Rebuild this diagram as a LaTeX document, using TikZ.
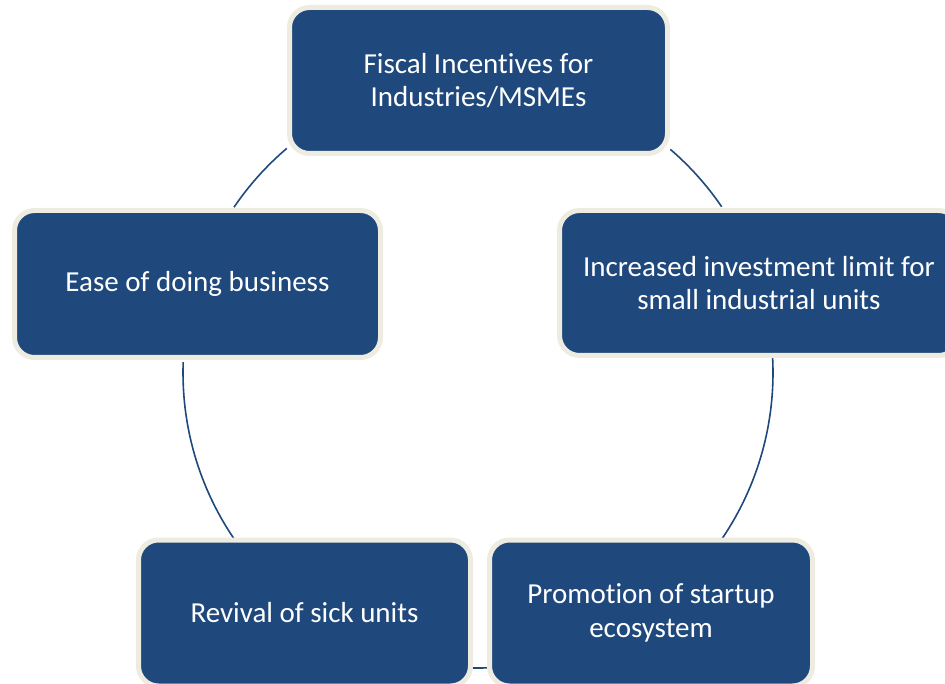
\documentclass[tikz,border=0pt]{standalone}
\usepackage{fontspec}
\setmainfont{Carlito}[Ligatures=NoCommon]
\usetikzlibrary{calc}
\definecolor{boxblue}{RGB}{31,73,125}
\definecolor{rimcream}{RGB}{238,236,225}
\tikzset{
  stage/.style={draw=rimcream, line width=5pt, fill=boxblue, rounded corners=20pt,
    text=white, align=center, font=\fontsize{29}{33.5}\selectfont, inner sep=0pt},
  link/.style={draw=boxblue, line width=1.6pt},
}
\begin{document}
\begin{tikzpicture}[x=1pt,y=-1pt]
  \useasboundingbox (0,0) rectangle (945,684);
  \clip (0,0) rectangle (945,684);
  \coordinate (c) at (478,373);

  % cycle arcs between the boxes
  \foreach \a/\b in {130.4/145.8, 177.9/214.3, 266/274, 325.9/362.9, 34.3/49.3}
    \draw[link] ($(c)+(\a:295pt)$) arc[start angle=\a, end angle=\b, radius=295pt];

  \node[stage, minimum width=378pt, minimum height=146pt] (fisc) at (478.5,80.5)
    {Fiscal Incentives for\\Industries/MSMEs};
  \node[stage, minimum width=366pt, minimum height=147pt] (ease) at (197.5,284)
    {Ease of doing business};
  \node[stage, minimum width=399pt, minimum height=145pt] (invest) at (759,283)
    {Increased investment limit for\\small industrial units};
  \node[stage, minimum width=332pt, minimum height=146pt] (revive) at (304.5,613)
    {Revival of sick units};
  \node[stage, minimum width=323pt, minimum height=146pt] (promo) at (651,613)
    {Promotion of startup\\ecosystem};
\end{tikzpicture}
\end{document}
